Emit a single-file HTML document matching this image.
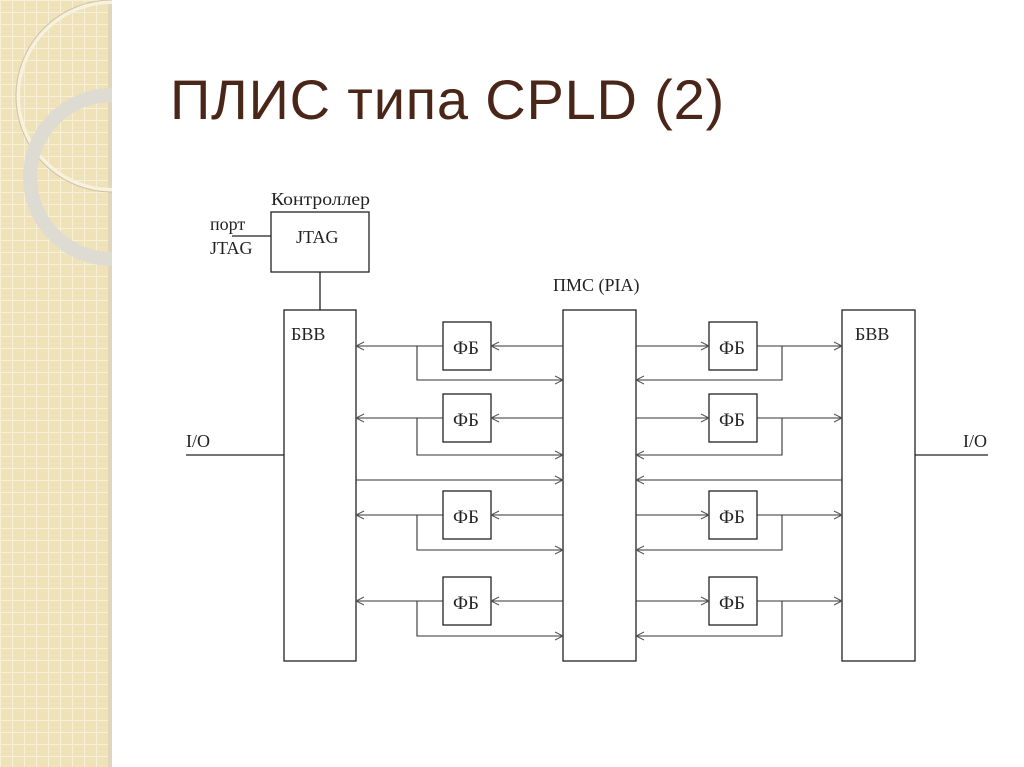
<!DOCTYPE html>
<html><head><meta charset="utf-8"><style>
html,body{margin:0;padding:0;background:#fff;}
body{width:1024px;height:767px;position:relative;overflow:hidden;}
</style></head><body>
<svg width="1024" height="767" viewBox="0 0 1024 767" xmlns="http://www.w3.org/2000/svg" style="position:absolute;left:0;top:0">
<defs>
<pattern id="g" width="12" height="12" patternUnits="userSpaceOnUse">
<rect width="12" height="12" fill="#efe2b8"/>
<path d="M0 0.5H12M0.5 0V12" stroke="#f8f0d6" stroke-width="1"/>
</pattern>
<marker id="a" markerWidth="12" markerHeight="10" refX="9" refY="5" orient="auto" markerUnits="userSpaceOnUse">
<path d="M1,1 L9,5 L1,9" fill="none" stroke="#555" stroke-width="1"/>
</marker>
</defs>
<rect x="0" y="0" width="112" height="767" fill="url(#g)"/>
<rect x="108" y="0" width="4" height="767" fill="#e0d6bd"/>
<clipPath id="c"><rect x="0" y="0" width="112" height="767"/></clipPath>
<g clip-path="url(#c)" fill="none">
<circle cx="112" cy="96" r="94" stroke="#f7f1de" stroke-width="4"/>
<circle cx="112" cy="96" r="96" stroke="#b5a98a" stroke-width="1" opacity=".6"/>
<circle cx="112" cy="177" r="82" stroke="#dedbd2" stroke-width="14"/>
</g>
<text x="170" y="119" font-family="Liberation Sans, sans-serif" font-size="56" letter-spacing="0.8" fill="#4a2619">ПЛИС типа CPLD (2)</text>
<g font-family="Liberation Serif, serif" font-size="18" fill="#222">
<text x="271" y="205" textLength="99" lengthAdjust="spacingAndGlyphs">Контроллер</text>
<text x="296" y="243">JTAG</text>
<text x="210" y="230">порт</text>
<text x="210" y="254">JTAG</text>
<text x="553" y="291">ПМС (PIA)</text>
<text x="291" y="340">БВВ</text>
<text x="855" y="340">БВВ</text>
<text x="186" y="447">I/O</text>
<text x="963" y="447">I/O</text>
<g font-size="19">
<text x="453" y="354">ФБ</text><text x="453" y="426">ФБ</text><text x="453" y="523">ФБ</text><text x="453" y="609">ФБ</text>
<text x="719" y="354">ФБ</text><text x="719" y="426">ФБ</text><text x="719" y="523">ФБ</text><text x="719" y="609">ФБ</text>
</g>
</g>
<g fill="none" stroke="#222" stroke-width="1.3">
<rect x="271" y="212" width="98" height="60"/>
<path d="M232 236H271M320 272V310M186 455H284M915 455H988"/>
<rect x="284" y="310" width="72" height="351"/>
<rect x="563" y="310" width="73" height="351"/>
<rect x="842" y="310" width="73" height="351"/>
<rect x="443" y="322" width="48" height="48"/><rect x="443" y="394" width="48" height="48"/>
<rect x="443" y="491" width="48" height="48"/><rect x="443" y="577" width="48" height="48"/>
<rect x="709" y="322" width="48" height="48"/><rect x="709" y="394" width="48" height="48"/>
<rect x="709" y="491" width="48" height="48"/><rect x="709" y="577" width="48" height="48"/>
</g>
<g fill="none" stroke="#333" stroke-width="1.1" marker-end="url(#a)">
<path d="M563 346H491"/><path d="M443 346H356"/><path d="M417 346V380H563"/>
<path d="M563 418H491"/><path d="M443 418H356"/><path d="M417 418V455H563"/>
<path d="M356 480H563"/>
<path d="M563 515H491"/><path d="M443 515H356"/><path d="M417 515V550H563"/>
<path d="M563 601H491"/><path d="M443 601H356"/><path d="M417 601V636H563"/>
<path d="M636 346H709"/><path d="M757 346H842"/><path d="M782 346V380H636"/>
<path d="M636 418H709"/><path d="M757 418H842"/><path d="M782 418V455H636"/>
<path d="M842 480H636"/>
<path d="M636 515H709"/><path d="M757 515H842"/><path d="M782 515V550H636"/>
<path d="M636 601H709"/><path d="M757 601H842"/><path d="M782 601V636H636"/>
</g>
</svg>
</body></html>
